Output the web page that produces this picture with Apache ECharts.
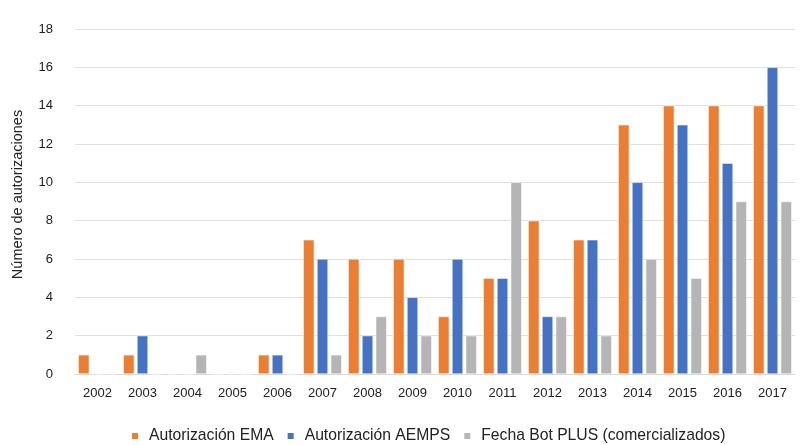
<!DOCTYPE html>
<html><head><meta charset="utf-8">
<script src="https://cdn.jsdelivr.net/npm/echarts@6/dist/echarts.min.js"></script>
<style>html,body{margin:0;padding:0;background:#fff}#c{width:803px;height:445px}</style>
</head><body><div id="c"></div>
<script>
var categories = ['2002','2003','2004','2005','2006','2007','2008','2009','2010','2011','2012','2013','2014','2015','2016','2017'];
var ema = [1,1,0,0,1,7,6,6,3,5,8,7,13,14,14,14];
var aemps = [0,2,0,0,1,6,2,4,6,5,3,7,10,13,11,16];
var botplus = [0,0,1,0,0,1,3,2,2,10,3,2,6,5,9,9];
var seriesNames = ['Autorización EMA','Autorización AEMPS','Fecha Bot PLUS (comercializados)'];
var colors = ['#ED7D31','#4472C4','#B5B5B5'];
var chart = echarts.init(document.getElementById('c'));
var font = 'Liberation Sans, Arial, Helvetica, sans-serif';
function s(name, data, color){
  return {name:name,type:'bar',data:data,barWidth:11,barGap:'25%',
    itemStyle:{color:color,borderColor:'#fff',borderWidth:0.5}};
}
chart.setOption({
  animation:false,
  textStyle:{fontFamily:font},
  color:colors,
  grid:{left:75,right:8,top:29,bottom:71,containLabel:false},
  legend:{top:423,left:125,itemWidth:8,itemHeight:8,itemGap:12,icon:'rect',
    textStyle:{fontSize:15.7,color:'#222',fontFamily:font,padding:[0,0,0,5]},
    data:seriesNames},
  xAxis:{type:'category',data:categories,
    axisLine:{show:true,lineStyle:{color:'#d9d9d9'}},axisTick:{show:false},
    axisLabel:{fontSize:13,color:'#222',margin:13}},
  yAxis:{type:'value',min:0,max:18,interval:2,
    name:'Número de autorizaciones',nameLocation:'middle',nameGap:50,nameRotate:90,
    nameTextStyle:{fontSize:14.5,color:'#222',padding:[0,0,0,14]},
    axisLine:{show:false},axisTick:{show:false},
    axisLabel:{fontSize:13,color:'#222',margin:22},
    splitLine:{lineStyle:{color:'#e0e0e0'}}},
  series:[s(seriesNames[0],ema,colors[0]),s(seriesNames[1],aemps,colors[1]),s(seriesNames[2],botplus,colors[2])]
});
</script></body></html>
